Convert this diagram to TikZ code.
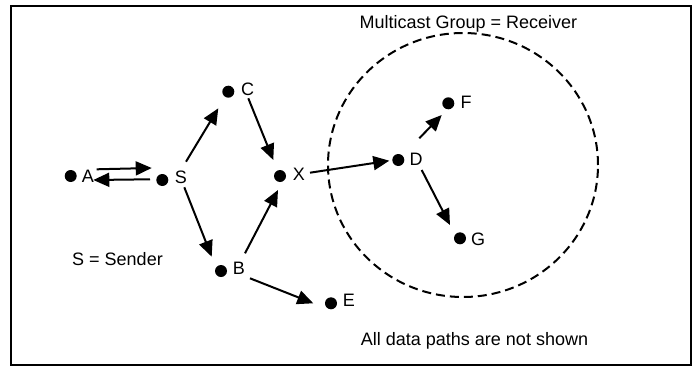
\documentclass[tikz,border=0pt]{standalone}
\usepackage{fontspec}
\setmainfont{Liberation Sans}
\usetikzlibrary{arrows.meta,calc}
\tikzset{
  dot/.style={circle,fill=black,inner sep=0pt,minimum size=12pt},
  lbl/.style={inner sep=0pt,anchor=base,font=\fontsize{18}{20}\selectfont},
  arr/.style={line width=2pt,-{Triangle[length=16pt,width=14pt]}},
  group/.style={line width=2pt,dash pattern=on 9pt off 5pt},
  frame/.style={line width=2pt}
}
\begin{document}
\begin{tikzpicture}[x=1pt,y=-1pt]
\useasboundingbox (0,0) rectangle (697,367);
\draw[frame] (11,6) rectangle (691,365);
\draw[group] (463,165) ellipse [x radius=135pt, y radius=132pt];
% dots
\node[dot] (A) at (70.7,176) {};
\node[dot] (S) at (162.3,180) {};
\node[dot] (C) at (228.3,91.7) {};
\node[dot] (X) at (280,176) {};
\node[dot] (B) at (221,271) {};
\node[dot] (E) at (331,303.3) {};
\node[dot] (D) at (398.3,160) {};
\node[dot] (F) at (448.3,103.3) {};
\node[dot] (G) at (460,238.3) {};
% labels
\node[lbl] (lA) at (88,182.4) {A};
\node[lbl] (lS) at (181,183) {S};
\node[lbl] (lC) at (247.5,95) {C};
\node[lbl] (lX) at (299,180) {X};
\node[lbl] (lB) at (239,274) {B};
\node[lbl] (lE) at (349,306.7) {E};
\node[lbl] (lD) at (416,165) {D};
\node[lbl] (lF) at (466,108) {F};
\node[lbl] (lG) at (478,245) {G};
\node[lbl] (sender) at (117.5,265) {S = Sender};
\node[lbl] (title) at (468.3,28.3) {Multicast Group = Receiver};
\node[lbl] (note) at (474.5,345) {All data paths are not shown};
% connectors
\draw[arr] ($(A)+(26,-6.7)$) -- ($(S)+(-10.6,-12)$);
\draw[arr] ($(S)+(-12.3,-0.7)$) -- ($(A)+(22.6,4)$);
\draw[arr] ($(S)+(23.7,-18.3)$) -- ($(C)+(-10,16.6)$);
\draw[arr] ($(C)+(20,6.6)$) -- ($(X)+(-6.7,-16)$);
\draw[arr] ($(S)+(22,7.3)$) -- ($(B)+(-9.3,-14.3)$);
\draw[arr] ($(B)+(24,-17.7)$) -- ($(X)+(-2,14)$);
\draw[arr] ($(X)+(30,-3.3)$) -- ($(D)+(-9,0.7)$);
\draw[arr] ($(D)+(21,-21.7)$) -- ($(F)+(-6.6,11.7)$);
\draw[arr] ($(D)+(23.4,10)$) -- ($(G)+(-10,-13.3)$);
\draw[arr] ($(B)+(29,7.3)$) -- ($(E)+(-17.7,0)$);
\end{tikzpicture}
\end{document}
